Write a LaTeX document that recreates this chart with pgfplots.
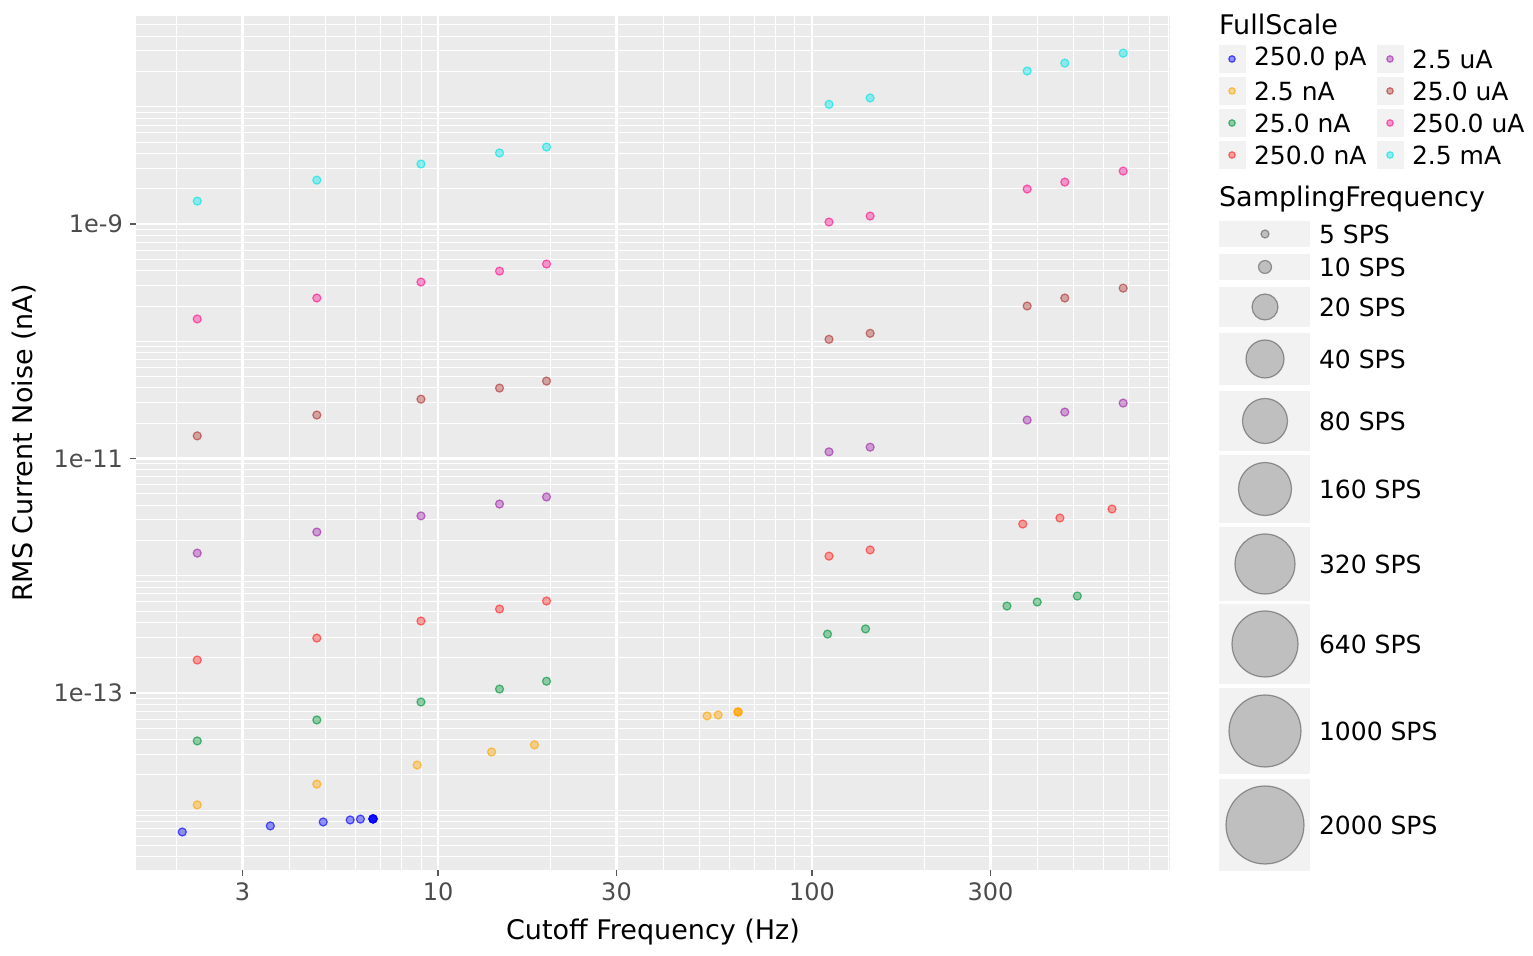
\documentclass[border=0pt]{standalone}
\usepackage{pgfplots}
\pgfplotsset{compat=1.18}
\usepackage{fontspec}
\setmainfont{DejaVu Sans}
\definecolor{cBlue}{RGB}{0,0,255}
\definecolor{cOrange}{RGB}{255,165,0}
\definecolor{cGreen}{RGB}{0,150,60}
\definecolor{cRed}{RGB}{255,40,40}
\definecolor{cPurple}{RGB}{160,40,170}
\definecolor{cBrown}{RGB}{175,55,50}
\definecolor{cPink}{RGB}{255,20,147}
\definecolor{cCyan}{RGB}{0,230,230}
\definecolor{panel}{RGB}{235,235,235}
\definecolor{keybg}{RGB}{242,242,242}
\pgfplotsset{bub/.style={scatter, only marks, mark=*, fill opacity=0.4, draw opacity=0.65,
  line width=0.6pt,
  visualization depends on={0.5*\thisrow{r} \as \rad},
  scatter/@pre marker code/.append style={/tikz/mark size=\rad},
  scatter/use mapped color={draw=#1, fill=#1}}}
\begin{document}
\begin{tikzpicture}
\useasboundingbox (-68pt,-43pt) rectangle (698.5pt,435pt);
\begin{loglogaxis}[
  at={(0,0)}, anchor=south west,
  scale only axis, width=517pt, height=427.5pt,
  xmin=1.557, xmax=906, ymin=3.09e-15, ymax=6.07e-8,
  axis background/.style={fill=panel}, axis line style={draw=none},
  xtick={3,10,30,100,300}, xticklabels={3,10,30,100,300},
  ytick={1e-9,1e-11,1e-13}, yticklabels={1e-9,1e-11,1e-13},
  minor xtick={2,4,5,6,7,8,9,20,40,50,60,70,80,90,200,400,500,600,700,800,900},
  minor ytick={4e-15,5e-15,6e-15,7e-15,8e-15,9e-15,1e-14,2e-14,3e-14,4e-14,5e-14,6e-14,7e-14,8e-14,9e-14,2e-13,3e-13,4e-13,5e-13,6e-13,7e-13,8e-13,9e-13,1e-12,2e-12,3e-12,4e-12,5e-12,6e-12,7e-12,8e-12,9e-12,2e-11,3e-11,4e-11,5e-11,6e-11,7e-11,8e-11,9e-11,1e-10,2e-10,3e-10,4e-10,5e-10,6e-10,7e-10,8e-10,9e-10,2e-9,3e-9,4e-9,5e-9,6e-9,7e-9,8e-9,9e-9,1e-8,2e-8,3e-8,4e-8,5e-8,6e-8},
  grid=both, major grid style={white, line width=1.1pt}, minor grid style={white, line width=0.45pt},
  xtick pos=bottom, ytick pos=left,
  tick align=outside, major tick length=3pt, minor tick length=0pt,
  tick style={gray!70!black, line width=0.6pt},
  xticklabel style={font=\fontsize{12}{14}\selectfont, text=black!70},
  yticklabel style={font=\fontsize{12}{14}\selectfont, text=black!70},
  clip=true,
]
\addplot[bub=cBlue] table {
x y r
2.07 6.52e-15 4
3.56 7.35e-15 6.5
4.93 7.94e-15 19
5.82 8.26e-15 13
6.20 8.40e-15 23
6.70 8.43e-15 27
6.70 8.43e-15 30
6.70 8.43e-15 33
6.70 8.43e-15 36
6.70 8.43e-15 39
};
\addplot[bub=cOrange] table {
x y r
2.27 1.11e-14 4
4.74 1.67e-14 6.5
8.79 2.43e-14 19
13.9 3.14e-14 13
18.1 3.61e-14 23
52.4 6.37e-14 27
56.1 6.49e-14 30
63.4 6.89e-14 33
63.4 6.89e-14 36
63.4 6.89e-14 39
};
\addplot[bub=cGreen] table {
x y r
2.27 3.90e-14 4
4.74 5.89e-14 6.5
9.0 8.38e-14 19
14.6 1.08e-13 13
19.5 1.26e-13 23
110 3.18e-13 27
139 3.52e-13 30
332 5.52e-13 33
400 5.97e-13 36
512 6.71e-13 39
};
\addplot[bub=cRed] table {
x y r
2.27 1.91e-13 4
4.74 2.94e-13 6.5
9.0 4.11e-13 19
14.6 5.20e-13 13
19.5 6.09e-13 23
111 1.47e-12 27
143 1.66e-12 30
366 2.76e-12 33
460 3.11e-12 36
634 3.71e-12 39
};
\addplot[bub=cPurple] table {
x y r
2.27 1.56e-12 4
4.74 2.36e-12 6.5
9.0 3.24e-12 19
14.6 4.09e-12 13
19.5 4.70e-12 23
111 1.14e-11 27
143 1.25e-11 30
376 2.13e-11 33
474 2.49e-11 36
679 2.97e-11 39
};
\addplot[bub=cBrown] table {
x y r
2.27 1.56e-11 4
4.74 2.35e-11 6.5
9.0 3.21e-11 19
14.6 3.99e-11 13
19.5 4.58e-11 23
111 1.04e-10 27
143 1.17e-10 30
376 2.00e-10 33
474 2.34e-10 36
679 2.84e-10 39
};
\addplot[bub=cPink] table {
x y r
2.27 1.55e-10 4
4.74 2.34e-10 6.5
9.0 3.20e-10 19
14.6 3.97e-10 13
19.5 4.56e-10 23
111 1.04e-9 27
143 1.17e-9 30
376 1.99e-9 33
474 2.28e-9 36
679 2.83e-9 39
};
\addplot[bub=cCyan] table {
x y r
2.27 1.57e-9 4
4.74 2.37e-9 6.5
9.0 3.25e-9 19
14.6 4.04e-9 13
19.5 4.54e-9 23
111 1.05e-8 27
143 1.19e-8 30
376 2.02e-8 33
474 2.36e-8 36
679 2.87e-8 39
};
\end{loglogaxis}
\begin{scope}[x=0.5pt,y=-0.5pt,shift={(-68pt,435pt)}]
\node[anchor=center, font=\fontsize{13.5}{16}\selectfont] at (653,932) {Cutoff Frequency (Hz)};
\node[anchor=center, rotate=90, font=\fontsize{13.5}{16}\selectfont] at (24,443) {RMS Current Noise (nA)};
\node[anchor=west, font=\fontsize{13.5}{16}\selectfont] at (1212,24) {FullScale};
\foreach \c/\t/\yy in {cBlue/250.0 pA/59, cOrange/2.5 nA/91, cGreen/25.0 nA/123, cRed/250.0 nA/155}{
  \fill[keybg] (1219,\yy-14) rectangle (1246,\yy+14);
  \draw[\c, fill=\c, fill opacity=0.4, draw opacity=0.65, line width=0.6pt] (1232,\yy) circle[radius=3.2];
  \node[anchor=west, font=\fontsize{12.5}{15}\selectfont] at (1247,\yy) {\t};
}
\foreach \c/\t/\yy in {cPurple/2.5 uA/59, cBrown/25.0 uA/91, cPink/250.0 uA/123, cCyan/2.5 mA/155}{
  \fill[keybg] (1377,\yy-14) rectangle (1404,\yy+14);
  \draw[\c, fill=\c, fill opacity=0.4, draw opacity=0.65, line width=0.6pt] (1390,\yy) circle[radius=3.2];
  \node[anchor=west, font=\fontsize{12.5}{15}\selectfont] at (1405,\yy) {\t};
}
\node[anchor=west, font=\fontsize{13.5}{16}\selectfont] at (1212,199) {SamplingFrequency};
\foreach \t/\yy/\rr/\hh in {5 SPS/234/4/13, 10 SPS/267/6.5/13, 20 SPS/307/13/20, 40 SPS/359/19/26, 80 SPS/421/22.5/30, 160 SPS/489/26.5/34, 320 SPS/564/30/37, 640 SPS/644/33/40, 1000 SPS/731/36/43, 2000 SPS/825/39/46}{
  \fill[keybg] (1219,\yy-\hh) rectangle (1310,\yy+\hh);
  \draw[black!75, fill=black!55, fill opacity=0.4, draw opacity=0.5, line width=0.6pt] (1265,\yy) circle[radius=\rr];
  \node[anchor=west, font=\fontsize{12.5}{15}\selectfont] at (1312,\yy) {\t};
}
\end{scope}
\end{tikzpicture}
\end{document}
